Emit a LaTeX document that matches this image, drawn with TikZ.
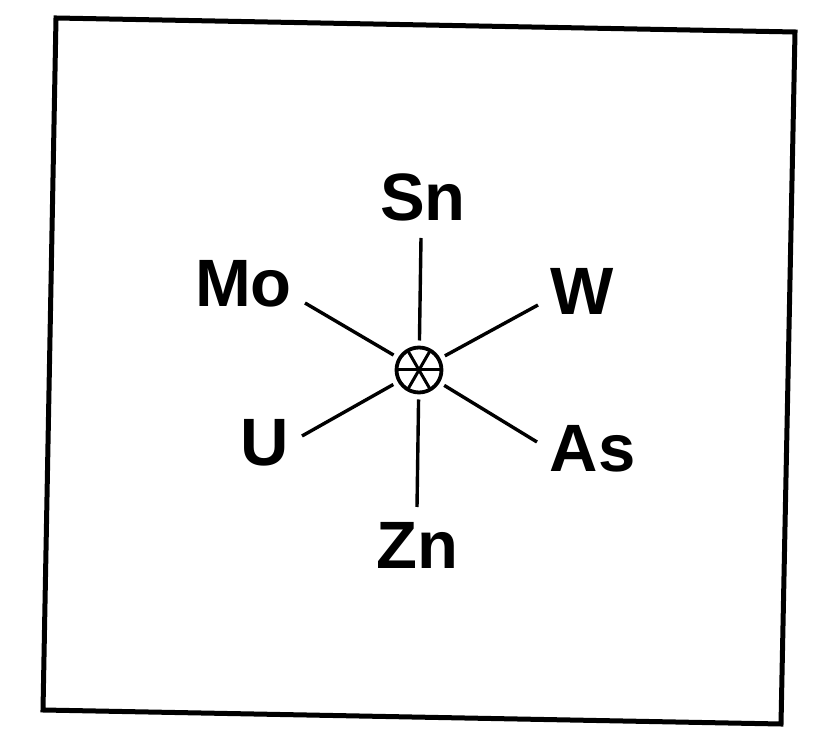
\documentclass[tikz,border=0pt]{standalone}
\usepackage{fontspec}
\setmainfont{Liberation Sans}
\usepackage{tikz}
\usetikzlibrary{positioning, calc}

\begin{document}
\begin{tikzpicture}[x=1pt, y=1pt,
    element/.style={inner sep=0pt, font=\fontsize{67}{70}\selectfont\bfseries},
    spoke/.style={line width=3.4pt, shorten <=7pt},
    hubmark/.style={circle, draw, line width=3.8pt, minimum size=45pt, inner sep=0pt, outer sep=0pt}]
  \useasboundingbox (0,0) rectangle (821,733);

  % Frame (scanned, slightly tilted)
  \draw[line width=5pt, line join=miter] (56,715) -- (795,701) -- (781,9) -- (43,23) -- cycle;

  % Centre symbol
  \node[hubmark] (hub) at (419,363) {};
  \draw[line width=3pt] (hub.0) -- (hub.180);
  \draw[line width=3pt] (hub.60) -- (hub.240);
  \draw[line width=3pt] (hub.120) -- (hub.300);

  % Element labels
  \node[element] (sn) at (423,535.5) {Sn};
  \node[element] (mo) at (243.5,449) {Mo};
  \node[element] (w) at (582,442) {W};
  \node[element] (as) at (592.5,284) {As};
  \node[element] (u) at (265,290.5) {U};
  \node[element] (zn) at (417,188) {Zn};

  % Free ends of the spokes
  \coordinate (sn-end) at (421,495);
  \coordinate (w-end) at (538,428);
  \coordinate (as-end) at (537,291);
  \coordinate (zn-end) at (417,226);
  \coordinate (u-end) at (302,297);
  \coordinate (mo-end) at (305,430);

  % Spokes
  \foreach \e in {sn, w, as, zn, u, mo} {
    \draw[spoke] (hub) -- (\e-end);
  }
\end{tikzpicture}
\end{document}
